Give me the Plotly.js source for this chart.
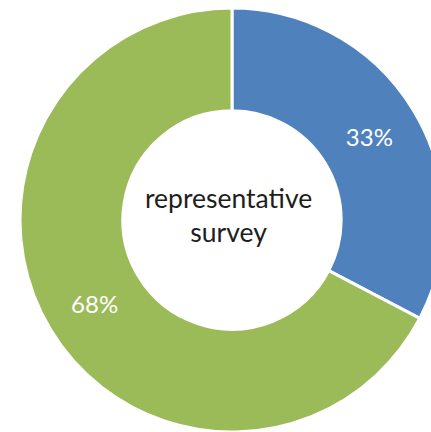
<!DOCTYPE html>
<html>
<head>
<meta charset="utf-8">
<script src="https://cdn.plot.ly/plotly-3.0.1.min.js"></script>
<style>
html,body{margin:0;padding:0;overflow:hidden;background:#fff;width:431px;height:432px;}
#chart{width:464px;height:432px;}
</style>
</head>
<body>
<div id="chart"></div>
<script>
const categories = ["Blue segment", "Green segment"];
const values = [33, 68];
const labelsText = ["33%", "68%"];
const centerText = "representative<br>survey";
const colors = ["#4F81BD", "#9BBB59"];

Plotly.newPlot("chart", [{
  type: "pie",
  labels: categories,
  values: values,
  text: labelsText,
  textinfo: "text",
  textposition: "inside",
  insidetextorientation: "horizontal",
  hole: 0.515,
  sort: false,
  direction: "clockwise",
  rotation: 0,
  marker: {colors: colors, line: {color: "#ffffff", width: 3}},
  textfont: {family: "Lato, sans-serif", size: 24, color: "#ffffff"},
  hoverinfo: "none"
}], {
  width: 464,
  height: 432,
  margin: {l: 0, r: 0, t: 8, b: 0, pad: 0},
  showlegend: false,
  paper_bgcolor: "#ffffff",
  annotations: [{
    text: centerText,
    x: 0.492, y: 0.512, xref: "paper", yref: "paper",
    showarrow: false,
    font: {family: "Lato, sans-serif", size: 26.5, color: "#1e1e1e"}
  }]
}, {displayModeBar: false, staticPlot: true});
</script>
</body>
</html>
